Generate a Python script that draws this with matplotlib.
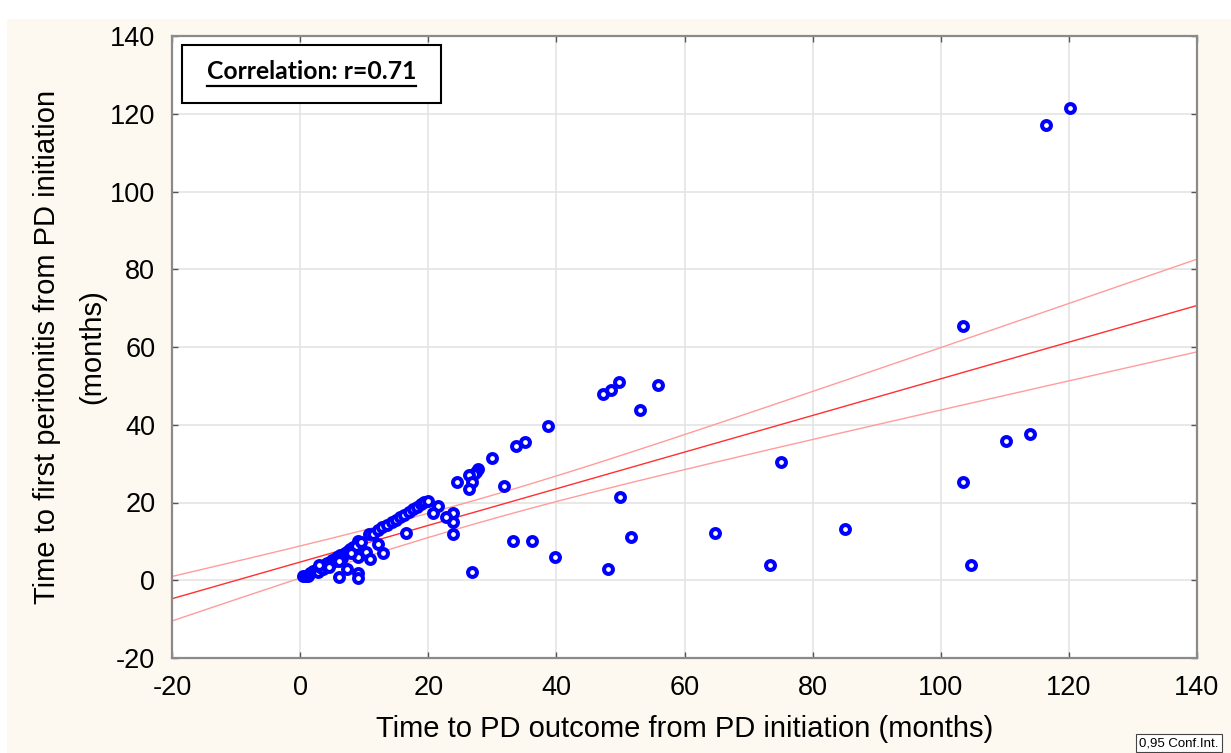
import numpy as np
import matplotlib.pyplot as plt
from matplotlib.patches import Rectangle
from matplotlib.lines import Line2D

# Time to PD outcome (x) and time to first peritonitis (y), months
x_months = [
    120.2, 116.4, 103.4, 113.9, 110.2, 103.4, 104.7, 85.0, 75.0, 73.3,
    64.7, 55.9, 53.0, 49.8, 48.6, 47.3, 50.0, 51.7, 48.0, 39.8,
    38.7, 36.2, 35.1, 33.7, 33.2, 31.9, 30.0, 26.9, 27.8, 27.4,
    27.1, 26.4, 26.8, 26.4, 24.5, 23.9, 23.9, 23.9, 22.7, 21.5,
    20.8, 16.5, 10.8, 9.1, 12.1, 12.9, 10.3, 10.9, 9.1, 7.3,
    6.0, 9.1, 9.1,
    0.5, 0.9, 1.3, 1.6, 2.0, 2.4, 2.8, 3.1, 3.5, 3.8,
    4.2, 4.6, 5.0, 5.4, 5.8, 6.2, 6.6, 7.0, 7.4, 7.8,
    8.2, 8.7, 9.5, 11.3, 12.2, 12.8, 13.5, 14.3, 15.0, 15.6,
    16.2, 17.0, 17.6, 18.2, 18.8, 19.4, 20.0, 3.0, 4.5, 6.0, 8.0,
]
y_months = [
    121.5, 117.1, 65.3, 37.7, 35.7, 25.3, 3.9, 13.3, 30.5, 3.9,
    12.2, 50.1, 43.9, 51.1, 48.9, 48.0, 21.5, 11.1, 2.9, 6.1,
    39.8, 10.1, 35.6, 34.6, 10.1, 24.3, 31.4, 2.0, 28.6, 27.9,
    27.3, 27.0, 25.4, 23.4, 25.4, 17.3, 15.1, 12.0, 16.2, 19.1,
    17.3, 12.1, 11.9, 10.2, 9.2, 7.1, 7.3, 5.5, 6.1, 2.9,
    0.9, 1.8, 0.6,
    1.0, 1.2, 1.0, 1.8, 2.3, 2.6, 2.0, 3.3, 3.0, 4.0,
    4.5, 4.2, 5.3, 5.0, 6.0, 6.4, 5.8, 7.0, 7.5, 8.0,
    8.5, 8.9, 9.8, 12.0, 13.0, 13.6, 14.2, 15.0, 15.6, 16.3,
    16.8, 17.6, 18.2, 18.8, 19.6, 20.2, 20.3, 3.8, 3.5, 5.0, 7.0,
]
x_ticks = [-20, 0, 20, 40, 60, 80, 100, 120, 140]
y_ticks = [-20, 0, 20, 40, 60, 80, 100, 120, 140]
corr_label = "Correlation: r=0.71"
ci_label = "0,95 Conf.Int."

x = np.array(x_months)
y = np.array(y_months)
n = len(x)

# linear fit + 95% confidence band for the mean
slope, intercept = np.polyfit(x, y, 1)
resid = y - (intercept + slope * x)
s = np.sqrt(np.sum(resid ** 2) / (n - 2))
sxx = np.sum((x - x.mean()) ** 2)
t_val = 1.987
xx = np.linspace(-20, 140, 200)
yy = intercept + slope * xx
half = t_val * s * np.sqrt(1 / n + (xx - x.mean()) ** 2 / sxx)

plt.rcParams['font.family'] = ['Liberation Sans', 'DejaVu Sans']
plt.rcParams['axes.unicode_minus'] = False

fig = plt.figure(figsize=(12.31, 7.53), dpi=100, facecolor='white')
# cream page background
fig.patches.append(Rectangle((7 / 1231, 0), 1, (753 - 19) / 753,
                             transform=fig.transFigure, facecolor='#fdf9f0',
                             edgecolor='none', zorder=-10))

ax = fig.add_axes([172 / 1231, 1 - 658 / 753, 1025 / 1231, 622 / 753])
ax.set_facecolor('white')

ax.plot(xx, yy, color='#ff3030', lw=1.0, zorder=2)
ax.plot(xx, yy + half, color='#ff9c9c', lw=1.0, zorder=2)
ax.plot(xx, yy - half, color='#ff9c9c', lw=1.0, zorder=2)

ax.plot(x, y, linestyle='none', marker='o', markersize=6.4,
        markerfacecolor='white', markeredgecolor='#0000ff',
        markeredgewidth=2.9, zorder=3)

ax.set_xlim(-20, 140)
ax.set_ylim(-20, 140)
ax.set_xticks(x_ticks)
ax.set_yticks(y_ticks)
ax.grid(True, color='#e4e4e4', lw=1.2)
ax.set_axisbelow(True)
ax.tick_params(direction='in', length=4, width=1, color='#555555',
               labelsize=19.5, pad=12, top=True, right=True)
for sp in ax.spines.values():
    sp.set_color('#8a8a8a')
    sp.set_linewidth(1.6)

ax.set_xlabel("Time to PD outcome from PD initiation (months)", fontsize=21,
              labelpad=10)
ax.set_ylabel("Time to first peritonitis from PD initiation\n(months)",
              fontsize=21, labelpad=3, linespacing=1.75)

# correlation box
ax.add_patch(Rectangle((0.0095, 0.8918), 0.2527, 0.0937,
                       transform=ax.transAxes, facecolor='white',
                       edgecolor='black', lw=1.5, zorder=5))
t = ax.text(0.1358, 0.931, corr_label, transform=ax.transAxes,
            ha='center', va='baseline', fontsize=17.8, fontweight='bold',
            family=['Lato', 'DejaVu Sans'], zorder=6)
fig.canvas.draw()
bb = t.get_window_extent().transformed(fig.transFigure.inverted())
uy = bb.y0 - 0.004
fig.lines.append(Line2D([bb.x0, bb.x1], [uy, uy], transform=fig.transFigure,
                        color='black', lw=1.6, zorder=7))

fig.text(1139 / 1231, 1 - 743 / 753, ci_label, fontsize=9.5, ha='left',
         va='center', bbox=dict(boxstyle='square,pad=0.25', facecolor='white',
                                edgecolor='#444444', lw=0.8))

fig.savefig("out.png", dpi=100, facecolor=fig.get_facecolor())
